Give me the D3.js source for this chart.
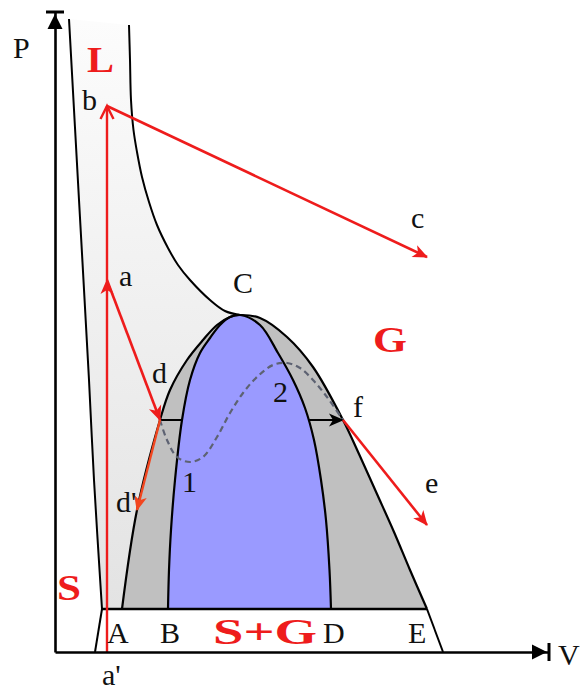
<!DOCTYPE html>
<html>
<head>
<meta charset="utf-8">
<script src="https://cdn.jsdelivr.net/npm/d3@7/dist/d3.min.js"></script>
<style>
  html, body { margin: 0; padding: 0; background: #ffffff; }
  svg { display: block; }
  text { font-family: "Liberation Serif", "Times New Roman", serif; }
</style>
</head>
<body>
<svg id="chart" width="583" height="691"></svg>
<script>
// ---- Phase diagram data, [V, P] in arbitrary units ----
// solid/liquid boundary (left), from top down to the triple line
const meltingLine = [[1.4, 63.3], [2.4, 45.2], [3.4, 27.2], [3.9, 17.2], [4.7, 4.3]];
// solid/gas boundaries below the triple line
const sublimationLeft = [[4.7, 4.3], [4.0, 0]];
const sublimationRight = [[37.2, 4.3], [38.8, 0]];
// critical isotherm, from the top down to the critical point C
const criticalIsotherm = [[7.4, 62.7], [7.5, 59.2], [7.6, 55.2], [7.85, 52.2], [8.2, 50.0],
  [8.7, 47.5], [9.4, 45.0], [10.2, 42.7], [11.3, 40.4], [12.3, 38.7], [13.5, 37.2],
  [15.5, 35.2], [17.0, 34.1], [18.5, 33.7]];
// coexistence curve (binodal) A -> C -> E
const binodalLeft = [[6.7, 4.3], [8.2, 14.2], [10.5, 23.2], [11.5, 26.2], [13.2, 29.2],
  [14.8, 31.2], [16.2, 32.7], [17.5, 33.5], [18.5, 33.7]];
const binodalRight = [[18.5, 33.7], [20.5, 33.4], [23.2, 31.5], [25.8, 28.5], [28.8, 23.2],
  [30.4, 19.8], [32.2, 15.8], [33.9, 12.0], [35.5, 8.2], [37.2, 4.3]];
// spinodal (unstable region) B -> C -> D
const spinodal = [[11.3, 4.3], [11.4, 8.2], [11.6, 12.2], [12.0, 17.2], [12.7, 23.2],
  [13.5, 27.2], [14.5, 29.9], [15.5, 31.4], [16.5, 32.7], [17.5, 33.5], [18.5, 33.7],
  [20.5, 32.7], [22.3, 29.9], [23.8, 27.2], [25.0, 24.4], [25.9, 21.2], [26.6, 17.2],
  [27.1, 13.2], [27.45, 8.2], [27.6, 4.3]];
// triple line
const tripleP = 4.3;
const tripleV = [4.7, 37.2];
// van der Waals loop between d and f
const vdwLoop = [[10.5, 23.2], [11.2, 21.2], [12.2, 19.5], [13.5, 19.0], [14.8, 19.5],
  [16.2, 21.5], [17.5, 23.9], [18.8, 25.9], [20.2, 27.5], [21.8, 28.7], [23.2, 28.9],
  [24.5, 28.4], [25.8, 27.2], [27.2, 25.5], [28.8, 23.2]];
// state points
const statePoints = {
  aPrime: [5.2, 0], a: [5.2, 37.2], b: [5.2, 54.6], c: [37.2, 39.5],
  d: [10.5, 23.2], dPrime: [8.2, 14.2], f: [28.8, 23.2], e: [37.2, 12.7]
};
// labels: [text, V, P]
const pointLabels = [["P", -4.2, 59.4], ["V", 50.3, -1.3], ["b", 2.7, 54.2], ["a", 6.4, 36.6],
  ["c", 35.6, 42.4], ["C", 17.8, 35.9], ["d", 9.7, 26.9], ["2", 21.8, 25.0],
  ["f", 29.8, 23.5], ["1", 12.7, 16.0], ["d'", 6.1, 14.0], ["e", 37.0, 15.9],
  ["A", 5.2, 0.9], ["B", 10.5, 0.9], ["D", 26.8, 0.9], ["E", 35.3, 0.9], ["a'", 4.7, -3.3]];
// phase region labels: [text, V, P, width in V units]
const phaseLabels = [["L", 3.2, 58.0, 2.7], ["G", 31.8, 30.0, 3.4], ["S", 0.2, 5.2, 2.4],
  ["S+G", 15.8, 0.8, 10.4]];

// ---- scales ----
const x = d3.scaleLinear().domain([0, 49.4]).range([55, 549]);
const y = d3.scaleLinear().domain([0, 64]).range([652, 12]);

const svg = d3.select("#chart");
const line = d3.line().x(d => x(d[0])).y(d => y(d[1])).curve(d3.curveCatmullRom.alpha(0.5));
const straight = d3.line().x(d => x(d[0])).y(d => y(d[1]));

// join several curve pieces into one outline
function joined(pieces) {
  return pieces.map((p, i) => {
    const s = line(p);
    return i === 0 ? s : "L" + s.slice(1);
  }).join("") + "Z";
}

const defs = svg.append("defs");
const grad = defs.append("linearGradient").attr("id", "liquidShade")
  .attr("gradientUnits", "userSpaceOnUse")
  .attr("x1", 0).attr("x2", 0).attr("y1", y(63)).attr("y2", y(tripleP));
grad.append("stop").attr("offset", 0).attr("stop-color", "#fcfcfc");
grad.append("stop").attr("offset", 1).attr("stop-color", "#e3e3e3");

// liquid region shading
svg.append("path")
  .attr("d", joined([meltingLine, [[tripleV[0], tripleP], binodalLeft[0]], binodalLeft,
    criticalIsotherm.slice().reverse()]))
  .attr("fill", "url(#liquidShade)");

// two-phase (binodal) region
svg.append("path")
  .attr("d", joined([binodalLeft, binodalRight.slice(1)]))
  .attr("fill", "#c0c0c0");

// tie line d -> f
svg.append("path")
  .attr("d", straight([statePoints.d, statePoints.f]))
  .attr("stroke", "#000").attr("stroke-width", 2.2).attr("fill", "none");

// unstable (spinodal) region
svg.append("path")
  .attr("d", line(spinodal) + "Z")
  .attr("fill", "#9a9aff");

// outlines
const outline = (d, w) => svg.append("path").attr("d", d).attr("fill", "none")
  .attr("stroke", "#000").attr("stroke-width", w).attr("stroke-linejoin", "round");
outline(line(spinodal), 2.2);
outline(line(binodalLeft.concat(binodalRight.slice(1))), 2.2);
outline(line(criticalIsotherm), 2);
outline(line(meltingLine), 2);
outline(straight(sublimationLeft), 2);
outline(straight(sublimationRight), 2);
outline(straight([[tripleV[0], tripleP], [tripleV[1], tripleP]]), 2.4);

// van der Waals loop
svg.append("path").attr("d", line(vdwLoop)).attr("fill", "none")
  .attr("stroke", "#5d6272").attr("stroke-width", 2.2).attr("stroke-dasharray", "6,4");

// ---- arrows ----
function head(at, from, color, open) {
  const px = x(at[0]), py = y(at[1]);
  const ang = Math.atan2(py - y(from[1]), px - x(from[0])) * 180 / Math.PI;
  const g = svg.append("g").attr("transform", `translate(${px},${py}) rotate(${ang})`);
  if (open) {
    g.append("path").attr("d", "M-13,-6.5L0,0L-13,6.5").attr("fill", "none")
      .attr("stroke", color).attr("stroke-width", 2.4).attr("stroke-linejoin", "miter");
  } else {
    g.append("path").attr("d", "M1,0L-14,-6.5L-10,0L-14,6.5Z").attr("fill", color);
  }
}
function seg(p, q, color, w) {
  svg.append("path").attr("d", straight([p, q])).attr("stroke", color)
    .attr("stroke-width", w).attr("fill", "none");
}
const red = "#ee1c1c";
const sp = statePoints;
// black tie-line head at f
head(sp.f, sp.d, "#000", false);
// a' -> a -> b
seg(sp.aPrime, sp.b, red, 2.4);
head(sp.a, sp.aPrime, red, false);
head(sp.b, sp.a, red, true);
// b -> c
seg(sp.b, sp.c, red, 2.6);
head(sp.c, sp.b, red, false);
// a -> d
seg(sp.a, sp.d, red, 2.6);
head(sp.d, sp.a, red, false);
// d -> d'
seg(sp.d, sp.dPrime, "#f2461f", 2.4);
head(sp.dPrime, sp.d, "#f2461f", false);
// f -> e
seg(sp.f, sp.e, red, 2.6);
head(sp.e, sp.f, red, false);

// ---- axes ----
const xAxis = d3.axisBottom(x).tickValues([]).tickSizeOuter(0);
const yAxis = d3.axisLeft(y).tickValues([]).tickSizeOuter(0);
const gx = svg.append("g").attr("transform", `translate(0,${y(0)})`).call(xAxis);
const gy = svg.append("g").attr("transform", `translate(${x(0)},0)`).call(yAxis);
[gx, gy].forEach(g => g.select(".domain").attr("stroke", "#000").attr("stroke-width", 2.6));
// arrow tips and end bars
const xEnd = x.range()[1], yTop = y.range()[1];
svg.append("path").attr("d", `M${xEnd - 2},${y(0)}L${xEnd - 17},${y(0) - 7.5}L${xEnd - 17},${y(0) + 7.5}Z`).attr("fill", "#000");
svg.append("path").attr("d", `M${xEnd},${y(0) - 9}L${xEnd},${y(0) + 9}`).attr("stroke", "#000").attr("stroke-width", 3);
svg.append("path").attr("d", `M${x(0)},${yTop + 2}L${x(0) - 7.5},${yTop + 17}L${x(0) + 7.5},${yTop + 17}Z`).attr("fill", "#000");
svg.append("path").attr("d", `M${x(0) - 9},${yTop}L${x(0) + 9},${yTop}`).attr("stroke", "#000").attr("stroke-width", 3);

// ---- labels ----
svg.selectAll("text.pt").data(pointLabels).join("text").attr("class", "pt")
  .attr("x", d => x(d[1])).attr("y", d => y(d[2]))
  .attr("font-size", 30).attr("fill", "#111").text(d => d[0]);
svg.selectAll("text.phase").data(phaseLabels).join("text").attr("class", "phase")
  .attr("x", d => x(d[1])).attr("y", d => y(d[2]))
  .attr("font-size", 35).attr("font-weight", "bold").attr("fill", red)
  .attr("textLength", d => x(d[3]) - x(0)).attr("lengthAdjust", "spacingAndGlyphs")
  .text(d => d[0]);
</script>
</body>
</html>
